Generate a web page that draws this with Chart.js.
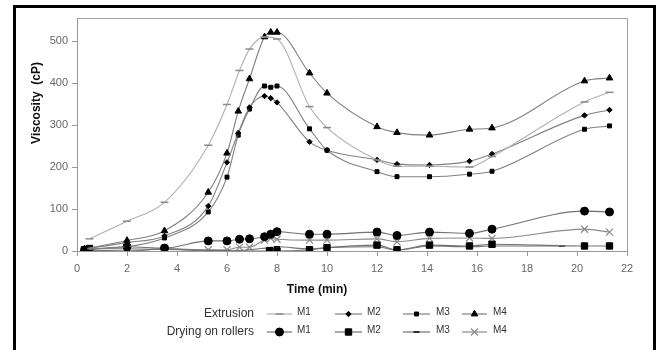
<!DOCTYPE html>
<html>
<head>
<meta charset="utf-8">
<script src="https://cdn.jsdelivr.net/npm/chart.js@4/dist/chart.umd.min.js"></script>
<style>
  body { margin: 0; background: #fff; }
  #wrap { position: relative; width: 658px; height: 350px; }
</style>
</head>
<body>
<div id="wrap"><canvas id="chart" width="658" height="350"></canvas></div>
<script>
// extrusion runs
const extTime = [0.3, 2, 3.5, 5.25, 6, 6.45, 6.9, 7.5, 7.75, 8, 9.3, 10, 12, 12.8, 14.1, 15.7, 16.6, 20.3, 21.3];
const extM1Time = [0.5, 2, 3.5, 5.25, 6, 6.5, 6.9, 7.5, 8, 9.3, 10, 12, 12.8, 14.1, 15.7, 16.6, 20.3, 21.3];
const extM1 = [29, 71, 116, 252, 349, 430, 481, 510, 505, 344, 294, 217, 202, 202, 200, 225, 355, 378];
const extM2 = [5, 20, 36, 107, 211, 281, 342, 369, 364, 354, 260, 240, 217, 207, 205, 214, 231, 323, 336];
const extM3 = [5, 10, 31, 93, 176, 276, 338, 393, 390, 393, 291, 240, 189, 177, 177, 183, 190, 290, 298];
const extM4 = [5, 25, 48, 140, 233, 333, 410, 510, 521, 521, 424, 376, 296, 282, 276, 290, 293, 405, 412];

// drying on rollers
const dryTime = [0.3, 2, 3.5, 5.25, 6, 6.5, 6.9, 7.5, 7.75, 8, 9.3, 10, 12, 12.8, 14.1, 15.7, 16.6, 20.3, 21.3];
const dryM1 = [2, 10, 7, 24, 24, 28, 29, 34, 40, 46, 40, 40, 45, 37, 45, 42, 52, 95, 93];
const dryM4 = [2, 0, 5, 3, 3, 9, 9, 26, 30, 28, 26, 26, 29, 22, 30, 31, 30, 52, 45];
const dryM2Time = [0.3, 0.5, 7.7, 8, 9.3, 10, 12, 12.8, 14.1, 15.7, 16.6, 20.3, 21.3];
const dryM2 = [3, 6, 0, 0, 3, 8, 14, 3, 14, 12, 16, 12, 12];
const dryM3Time = [0.3, 2, 3.5, 5.25, 6, 7.7, 8, 9.3, 10, 12, 12.8, 14.1, 15.7, 16.6, 19.4];
const dryM3 = [3, 0, 5, 0, 0, 8, 10, 5, 8, 10, 2, 12, 10, 12, 12];

const xTicks = [0, 2, 4, 6, 8, 10, 12, 14, 16, 18, 20, 22];
const yTicks = [0, 100, 200, 300, 400, 500];

function pts(xs, ys) {
    return ys.map((v, i) => ({ x: xs[i], y: v }));
}

function series(label, group, xs, ys, style, radius, lineColor, markColor, markBorder) {
    return {
        label: label,
        group: group,
        data: pts(xs, ys),
        borderColor: lineColor,
        borderWidth: 1.1,
        pointStyle: style,
        pointRadius: radius,
        pointBackgroundColor: markColor,
        pointBorderColor: markColor,
        pointBorderWidth: markBorder,
        cubicInterpolationMode: 'monotone',
        fill: false
    };
}

const datasets = [
    series('M1', 'Extrusion', extM1Time, extM1, 'line', 4, '#b0b0b0', '#8a8a8a', 1.5),
    series('M2', 'Extrusion', extTime, extM2, 'rectRot', 2.7, '#808080', '#000', 1),
    series('M3', 'Extrusion', extTime, extM3, 'rect', 2.8, '#808080', '#000', 1),
    series('M4', 'Extrusion', extTime, extM4, 'triangle', 3.8, '#808080', '#000', 1),
    series('M1', 'Drying on rollers', dryTime, dryM1, 'circle', 4, '#727272', '#000', 1),
    series('M2', 'Drying on rollers', dryM2Time, dryM2, 'rect', 4.5, '#727272', '#000', 1),
    series('M3', 'Drying on rollers', dryM3Time, dryM3, 'line', 3, '#727272', '#000', 1.5),
    series('M4', 'Drying on rollers', dryTime, dryM4, 'crossRot', 5, '#8a8a8a', '#8a8a8a', 1.2)
];

const extras = {
    id: 'extras',
    afterDraw(chart) {
        const ctx = chart.ctx;
        const a = chart.chartArea;
        ctx.save();
        // gray frame top/right
        ctx.strokeStyle = '#a0a0a0';
        ctx.lineWidth = 1;
        ctx.beginPath();
        ctx.moveTo(a.left, a.top + 0.5);
        ctx.lineTo(a.right + 0.5, a.top + 0.5);
        ctx.lineTo(a.right + 0.5, a.bottom);
        ctx.stroke();

        // axis titles
        ctx.fillStyle = '#111';
        ctx.font = 'bold 12px "Liberation Sans", Arial, sans-serif';
        ctx.textAlign = 'center';
        ctx.textBaseline = 'middle';
        ctx.fillText('Time (min)', 317, 290);
        ctx.save();
        ctx.translate(37, 103);
        ctx.rotate(-Math.PI / 2);
        ctx.fillText('Viscosity  (cP)', 0, 0);
        ctx.restore();

        // legend
        const rows = [['Extrusion', 314], ['Drying on rollers', 332]];
        const cols = [[267, 292, 297], [335, 362, 367], [403, 430, 436], [462, 487, 493]];
        rows.forEach((row, r) => {
            ctx.font = '12px "Liberation Sans", Arial, sans-serif';
            ctx.fillStyle = '#333';
            ctx.textAlign = 'right';
            ctx.fillText(row[0], 254, row[1]);
            cols.forEach((c, i) => {
                const ds = chart.data.datasets[r * 4 + i];
                ctx.strokeStyle = ds.borderColor;
                ctx.lineWidth = 1.2;
                ctx.beginPath();
                ctx.moveTo(c[0], row[1]);
                ctx.lineTo(c[1], row[1]);
                ctx.stroke();
                ctx.fillStyle = ds.pointBackgroundColor;
                ctx.strokeStyle = ds.pointBorderColor;
                ctx.lineWidth = ds.pointBorderWidth;
                Chart.helpers.drawPoint(ctx, {
                    pointStyle: ds.pointStyle,
                    radius: ds.pointRadius,
                    rotation: 0,
                    borderWidth: ds.pointBorderWidth
                }, (c[0] + c[1]) / 2, row[1]);
                ctx.font = '10px "Liberation Sans", Arial, sans-serif';
                ctx.fillStyle = '#333';
                ctx.textAlign = 'left';
                ctx.fillText(ds.label, c[2], row[1] - 2);
            });
        });

        // outer black frame
        ctx.strokeStyle = '#000';
        ctx.lineWidth = 3;
        ctx.strokeRect(14.5, 6.5, 640, 400);
        ctx.restore();
    }
};

new Chart(document.getElementById('chart'), {
    type: 'line',
    data: { datasets: datasets },
    options: {
        responsive: false,
        animation: false,
        layout: { padding: { top: 18, right: 31, left: 0, bottom: 0 } },
        plugins: { legend: { display: false }, tooltip: { enabled: false } },
        scales: {
            x: {
                type: 'linear',
                min: 0,
                max: 22,
                afterBuildTicks: s => { s.ticks = xTicks.map(v => ({ value: v })); },
                afterFit: s => { s.height = 99; },
                ticks: {
                    color: '#666',
                    padding: 6,
                    font: { family: '"Liberation Sans", Arial, sans-serif', size: 11 },
                    maxRotation: 0
                },
                grid: { display: true, drawOnChartArea: false, tickLength: 5, color: '#999' },
                border: { color: '#999' }
            },
            y: {
                min: 0,
                max: 555,
                afterBuildTicks: s => { s.ticks = yTicks.map(v => ({ value: v })); },
                afterFit: s => { s.width = 77; },
                ticks: {
                    color: '#666',
                    padding: 4,
                    font: { family: '"Liberation Sans", Arial, sans-serif', size: 11 }
                },
                grid: { display: true, drawOnChartArea: false, tickLength: 5, color: '#999' },
                border: { color: '#999' }
            }
        }
    },
    plugins: [extras]
});
</script>
</body>
</html>
